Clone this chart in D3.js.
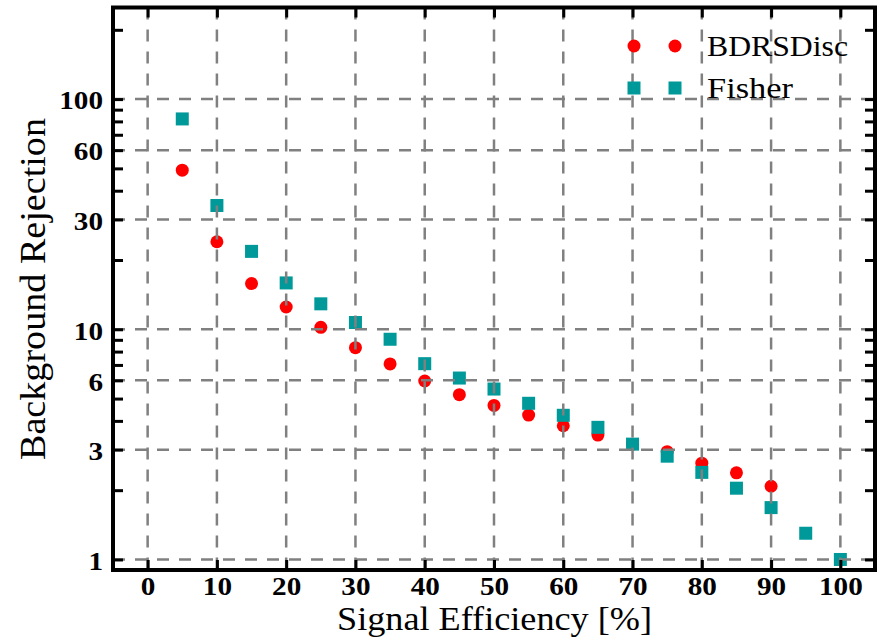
<!DOCTYPE html>
<html>
  <head>
    <meta charset="utf-8" />
    <title>ROC curve</title>
    <script src="https://cdnjs.cloudflare.com/ajax/libs/d3/7.8.5/d3.min.js"></script>
    <style>
      body { margin: 0; background: #fff; }
    </style>
  </head>
  <body>
    <div id="chart"></div>
    <script>
      // signal efficiency (%) for each point
      const efficiency = [5, 10, 15, 20, 25, 30, 35, 40, 45, 50, 55, 60, 65, 70, 75, 80, 85, 90, 95, 100];
      // background rejection
      const bdrsDisc = [49.1, 24.0, 15.8, 12.5, 10.2, 8.32, 7.07, 5.96, 5.2, 4.67, 4.24, 3.81, 3.47, 3.17, 2.94, 2.62, 2.38, 2.08];
      const fisher = [82, 34.5, 21.8, 15.9, 12.9, 10.7, 9.05, 7.09, 6.14, 5.5, 4.77, 4.23, 3.75, 3.17, 2.81, 2.39, 2.04, 1.68, 1.3, 1.0];

      const xTicks = [0, 10, 20, 30, 40, 50, 60, 70, 80, 90, 100];
      const yTicks = [1, 2, 3, 4, 5, 6, 7, 8, 9, 10, 20, 30, 40, 50, 60, 70, 80, 90, 100, 200];
      const yLabels = [1, 3, 6, 10, 30, 60, 100];

      const width = 886, height = 639;
      const mLeft = 113, mRight = 875, mTop = 7.5, mBottom = 570;
      const serif = "Liberation Serif";

      const svg = d3.select("#chart").append("svg")
        .attr("width", width)
        .attr("height", height);

      const x = d3.scaleLinear().domain([-5, 105]).range([mLeft, mRight]);
      const y = d3.scaleLog().domain([0.9, 250]).range([mBottom, mTop]);

      const red = "#ff0000", teal = "#009999";

      // markers
      const bdrsPts = bdrsDisc.map((v, i) => ({ e: efficiency[i], v }));
      const fisherPts = fisher.map((v, i) => ({ e: efficiency[i], v }));

      svg.append("g").selectAll("circle")
        .data(bdrsPts)
        .join("circle")
        .attr("cx", d => x(d.e))
        .attr("cy", d => y(d.v))
        .attr("r", 6.5)
        .attr("fill", red);

      svg.append("g").selectAll("rect")
        .data(fisherPts)
        .join("rect")
        .attr("x", d => x(d.e) - 6.5)
        .attr("y", d => y(d.v) - 6.5)
        .attr("width", 13)
        .attr("height", 13)
        .attr("fill", teal);

      // dashed grid drawn over the markers
      const grid = svg.append("g")
        .attr("stroke", "#808080")
        .attr("stroke-width", 2.5)
        .attr("stroke-dasharray", "12,10");

      grid.selectAll(".vgrid")
        .data(xTicks)
        .join("line")
        .attr("class", "vgrid")
        .attr("x1", d => x(d)).attr("x2", d => x(d))
        .attr("y1", mTop).attr("y2", mBottom);

      grid.selectAll(".hgrid")
        .data(yLabels)
        .join("line")
        .attr("class", "hgrid")
        .attr("y1", d => y(d)).attr("y2", d => y(d))
        .attr("x1", mLeft).attr("x2", mRight);

      // axes with inward ticks on all four sides
      const styleAxis = g => {
        g.select(".domain").remove();
        g.selectAll(".tick line").attr("stroke", "#000").attr("stroke-width", 3);
        g.selectAll(".tick text")
          .attr("fill", "#000")
          .attr("font-family", serif)
          .attr("font-weight", "bold")
          .attr("font-size", 24.5)
          .filter(function () { return this.textContent.length > 0; })
          .attr("textLength", function () { return this.textContent.length * 14.6; })
          .attr("lengthAdjust", "spacingAndGlyphs");
      };

      svg.append("g")
        .attr("transform", `translate(0,${mBottom})`)
        .call(d3.axisBottom(x).tickValues(xTicks).tickSize(-10).tickPadding(7.6))
        .call(styleAxis);

      svg.append("g")
        .attr("transform", `translate(0,${mTop})`)
        .call(d3.axisTop(x).tickValues(xTicks).tickSize(-10).tickFormat(""))
        .call(styleAxis);

      svg.append("g")
        .attr("transform", `translate(${mLeft},0)`)
        .call(d3.axisLeft(y).tickValues(yTicks).tickSize(-10).tickPadding(10)
          .tickFormat(d => yLabels.includes(d) ? d : ""))
        .call(styleAxis)
        .selectAll(".tick text").attr("dy", "0.4em");

      svg.append("g")
        .attr("transform", `translate(${mRight},0)`)
        .call(d3.axisRight(y).tickValues(yTicks).tickSize(-10).tickFormat(""))
        .call(styleAxis);

      // frame
      svg.append("rect")
        .attr("x", mLeft).attr("y", mTop)
        .attr("width", mRight - mLeft).attr("height", mBottom - mTop)
        .attr("fill", "none")
        .attr("stroke", "#000")
        .attr("stroke-width", 4);

      // axis titles
      svg.append("text")
        .attr("x", 337)
        .attr("y", 629.5)
        .attr("font-family", serif)
        .attr("font-size", 33.5)
        .attr("textLength", 315)
        .attr("lengthAdjust", "spacingAndGlyphs")
        .text("Signal Efficiency [%]");

      svg.append("text")
        .attr("transform", "translate(45,460) rotate(-90)")
        .attr("font-family", serif)
        .attr("font-size", 36)
        .attr("textLength", 342)
        .attr("lengthAdjust", "spacingAndGlyphs")
        .text("Background Rejection");

      // legend, two markers per entry
      const legend = svg.append("g");
      const legendItems = [
        { name: "BDRSDisc", shape: "circle", color: red, yc: 46, len: 141 },
        { name: "Fisher", shape: "square", color: teal, yc: 88, len: 86 }
      ];
      const mx = [634, 675];
      legendItems.forEach(item => {
        mx.forEach(px => {
          if (item.shape === "circle") {
            legend.append("circle").attr("cx", px).attr("cy", item.yc).attr("r", 6.5).attr("fill", item.color);
          } else {
            legend.append("rect").attr("x", px - 6.5).attr("y", item.yc - 6.5)
              .attr("width", 13).attr("height", 13).attr("fill", item.color);
          }
        });
        legend.append("text")
          .attr("x", 707)
          .attr("y", item.yc + 9.5)
          .attr("font-family", serif)
          .attr("font-size", 29)
          .attr("textLength", item.len)
          .attr("lengthAdjust", "spacingAndGlyphs")
          .text(item.name);
      });
    </script>
  </body>
</html>
